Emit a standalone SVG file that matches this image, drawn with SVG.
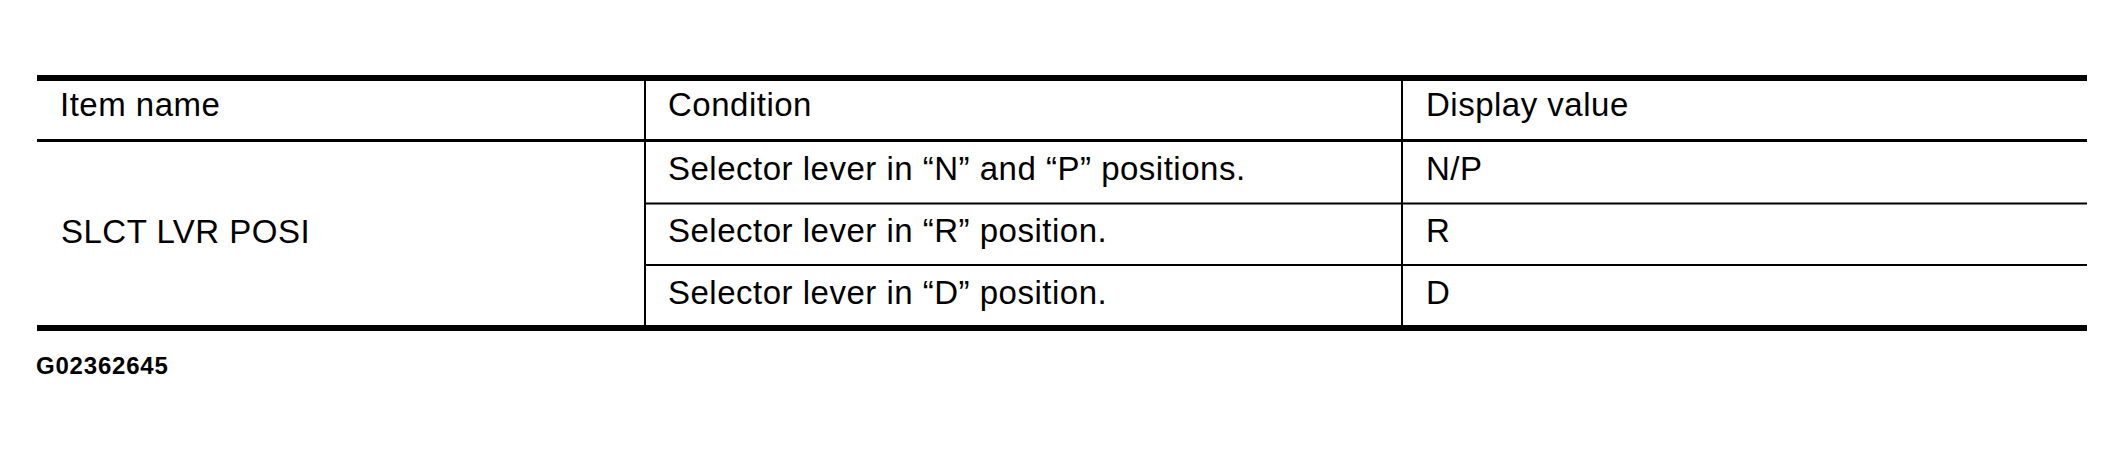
<svg xmlns="http://www.w3.org/2000/svg" width="2124" height="450" viewBox="0 0 2124 450">
<style>
.t{font-family:"Liberation Sans",Arial,sans-serif;font-size:33px;letter-spacing:0.5px;fill:#000}
.id{font-family:"Liberation Sans",Arial,sans-serif;font-size:24px;font-weight:bold;letter-spacing:0.8px;fill:#000}
.thick{stroke:#000;stroke-width:6}
.mid{stroke:#000;stroke-width:3}
.thin{stroke:#000;stroke-width:2}
</style>
<rect width="2124" height="450" fill="#fff"/>
<g id="grid">
<line class="thick" x1="37" y1="78" x2="2087" y2="78"/>
<line class="mid" x1="37" y1="140.5" x2="2087" y2="140.5"/>
<line class="thin" x1="645" y1="203.5" x2="2087" y2="203.5"/>
<line class="thin" x1="645" y1="265" x2="2087" y2="265"/>
<line class="thick" x1="37" y1="328" x2="2087" y2="328"/>
<line class="thin" x1="645" y1="81" x2="645" y2="325"/>
<line class="thin" x1="1402" y1="81" x2="1402" y2="325"/>
</g>
<g id="header">
<text class="t" x="60" y="116">Item name</text>
<text class="t" x="668" y="116">Condition</text>
<text class="t" x="1426" y="116">Display value</text>
</g>
<g id="item">
<text class="t" x="61" y="243" letter-spacing="1">SLCT LVR POSI</text>
</g>
<g id="row1">
<text class="t" x="668" y="180">Selector lever in “N” and “P” positions.</text>
<text class="t" x="1426" y="180">N/P</text>
</g>
<g id="row2">
<text class="t" x="668" y="242">Selector lever in “R” position.</text>
<text class="t" x="1426" y="242">R</text>
</g>
<g id="row3">
<text class="t" x="668" y="304">Selector lever in “D” position.</text>
<text class="t" x="1426" y="304">D</text>
</g>
<text class="id" x="36" y="374">G02362645</text>
</svg>
